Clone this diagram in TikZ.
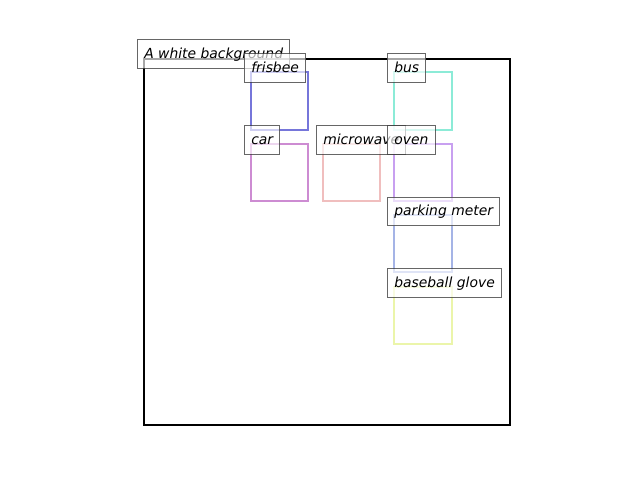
\documentclass[tikz,border=0pt]{standalone}
\usepackage{fontspec}
\setmainfont{DejaVu Sans}
\usepackage{xcolor}
\definecolor{frisbeecol}{RGB}{118,118,218}
\definecolor{buscol}{RGB}{140,235,215}
\definecolor{carcol}{RGB}{205,140,210}
\definecolor{microcol}{RGB}{240,190,190}
\definecolor{ovencol}{RGB}{200,160,240}
\definecolor{metercol}{RGB}{165,180,230}
\definecolor{glovecol}{RGB}{235,245,170}
\tikzset{
  lbl/.style={draw=black!75, draw opacity=0.8, fill=white, fill opacity=0.65,
    text opacity=1, anchor=west, inner xsep=4.9pt, inner ysep=0pt,
    text height=8.2pt, text depth=2.1pt,
    minimum height=20.2pt, font=\itshape\fontsize{10}{12}\selectfont,
    line width=0.7pt},
  bbox/.style={line width=1.9pt}
}

\begin{document}
\begin{tikzpicture}[x=0.72pt,y=-0.72pt]
      \useasboundingbox (0,0) rectangle (640,480);
      \draw[line width=1.5pt] (144,59) rectangle (510,425);
      \draw[bbox,draw=frisbeecol] (251,72) rectangle (308,130);
      \draw[bbox,draw=buscol] (394,72) rectangle (452,130);
      \draw[bbox,draw=carcol] (251,144) rectangle (308,201);
      \draw[bbox,draw=microcol] (323,144) rectangle (380,201);
      \draw[bbox,draw=ovencol] (394,144) rectangle (452,201);
      \draw[bbox,draw=metercol] (394,215) rectangle (452,272);
      \draw[bbox,draw=glovecol] (394,287) rectangle (452,344);
      \node[lbl] (bg) at (137,54) {A white background};
      \node[lbl] (frisbee) at (244,68) {frisbee};
      \node[lbl] (bus) at (387,68) {bus};
      \node[lbl] (car) at (244,140) {car};
      \node[lbl] (microwave) at (316,140) {microwave};
      \node[lbl] (oven) at (387,140) {oven};
      \node[lbl] (meter) at (387,211.5) {parking meter};
      \node[lbl] (glove) at (387,283) {baseball glove};
\end{tikzpicture}
\end{document}
